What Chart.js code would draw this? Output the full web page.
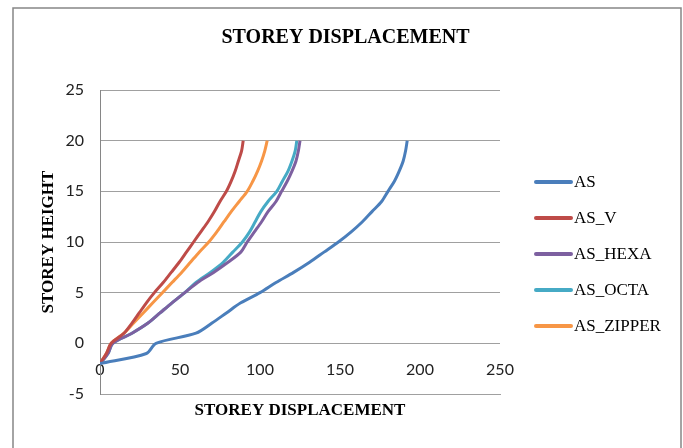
<!DOCTYPE html>
<html>
<head>
<meta charset="utf-8">
<script src="https://cdn.jsdelivr.net/npm/chart.js@4/dist/chart.umd.min.js"></script>
<style>
html,body{margin:0;padding:0;background:#fff;}
canvas{display:block;}
</style>
</head>
<body>
<canvas id="c" width="683" height="448"></canvas>
<script>
// ---- data ----
const storeyLevels = [-2,-1,0,1,2,3,4,5,6,7,8,9,10,11,12,13,14,15,16,17,18,19,20];
const AS        = [0,29,35,60,70,79,88,100,110,121,131,140,149,157,164,170,176,180,184,187,189.5,191,192];
const AS_V      = [0,4,7,15,20,24.5,29,34,39.5,44.5,49.5,54,58.5,63,67.5,71.5,75,79,82,84.5,86.5,88.5,89.5];
const AS_HEXA   = [0,5,8,20,30,37.5,45,53,61,71,80,88,92,96.5,101,105,110,113.5,117,120,122.5,124,125];
const AS_OCTA   = [0,5,8,20,30,37.5,45,53,60,69,77,83,89,93.5,97,100.5,105,110.5,114,117.5,120,122,123];
const AS_ZIPPER = [0,4,7,15,21,27,33,39,45,51,56.5,62,68,73,77.5,82,87,92,95.5,98.5,101,103,104.5];
const seriesNames = ['AS','AS_V','AS_HEXA','AS_OCTA','AS_ZIPPER'];
const seriesValues = [AS, AS_V, AS_HEXA, AS_OCTA, AS_ZIPPER];
const seriesColors = ['#4A7EBB','#BE4B48','#7D60A0','#46AAC5','#F79646'];
const xTicks = [0,50,100,150,200,250];
const yTicks = [-5,0,5,10,15,20,25];
const chartTitle = 'STOREY DISPLACEMENT';
const xTitle = 'STOREY DISPLACEMENT';
const yTitle = 'STOREY HEIGHT';

const datasets = seriesNames.map((name,i)=>({
  label: name,
  data: seriesValues[i].map((v,j)=>({x:v, y:storeyLevels[j]})),
  borderColor: seriesColors[i],
  backgroundColor: seriesColors[i],
  borderWidth: 3,
  pointRadius: 0,
  tension: 0.3,
  fill: false,
  xAxisID: 'x',
  yAxisID: 'y'
}));

const frameAndLegend = {
  id: 'frameAndLegend',
  beforeDraw(chart){
    const ctx = chart.ctx;
    ctx.save();
    ctx.fillStyle = '#fff';
    ctx.fillRect(0,0,chart.width,chart.height);
    ctx.strokeStyle = '#868686';
    ctx.lineWidth = 1.5;
    ctx.strokeRect(13, 8, 668, 460);
    ctx.restore();
  },
  afterDraw(chart){
    const ctx = chart.ctx;
    ctx.save();
    ctx.font = '17px "Liberation Serif"';
    ctx.textBaseline = 'middle';
    ctx.textAlign = 'left';
    chart.data.datasets.forEach((ds,i)=>{
      const y = 182 + i*36;
      ctx.strokeStyle = ds.borderColor;
      ctx.lineWidth = 4;
      ctx.lineCap = 'round';
      ctx.beginPath();
      ctx.moveTo(536, y);
      ctx.lineTo(571, y);
      ctx.stroke();
      ctx.fillStyle = '#000';
      ctx.fillText(ds.label, 574, y+1);
    });
    ctx.restore();
  }
};

new Chart(document.getElementById('c'), {
  type: 'line',
  data: { datasets },
  plugins: [frameAndLegend],
  options: {
    responsive: false,
    animation: false,
    layout: { padding: { left: 8, right: 0, top: 0, bottom: 0 } },
    plugins: {
      legend: { display: false },
      tooltip: { enabled: false },
      title: {
        display: true,
        text: chartTitle,
        color: '#000',
        font: { family: 'Liberation Serif', size: 20, weight: 'bold' },
        padding: { top: 26, bottom: 40 }
      }
    },
    scales: {
      x: {
        type: 'linear',
        position: 'bottom',
        min: 0, max: 250,
        grid: { display: false },
        border: { display: true, color: '#a0a0a0', width: 1 },
        ticks: { display: false },
        afterFit(s){ s.height = 54; },
        title: {
          display: true,
          text: xTitle,
          color: '#000',
          font: { family: 'Liberation Serif', size: 17, weight: 'bold' },
          padding: { top: 0, bottom: 27 }
        }
      },
      x2: {
        type: 'linear',
        position: { y: -0.9 },
        min: 0, max: 250,
        afterBuildTicks(s){ s.ticks = xTicks.map(v=>({value:v})); },
        grid: { display: false },
        border: { display: false },
        ticks: { color: '#222', padding: 0, font: { family: 'Lato', size: 16 } }
      },
      y: {
        type: 'linear',
        min: -5, max: 25,
        afterBuildTicks(s){ s.ticks = yTicks.map(v=>({value:v})); },
        afterFit(s){ s.width = 92; },
        grid: { color: '#a0a0a0', lineWidth: 1, drawTicks: false },
        border: { display: true, color: '#868686', width: 1 },
        ticks: { color: '#222', padding: 16, font: { family: 'Lato', size: 16 } },
        title: {
          display: true,
          text: yTitle,
          color: '#000',
          font: { family: 'Liberation Serif', size: 17, weight: 'bold' },
          padding: { top: 30, bottom: 0 }
        }
      },
      yRightSpace: {
        type: 'linear',
        position: 'right',
        display: true,
        min: -5, max: 25,
        afterFit(s){ s.width = 183; },
        grid: { display: false, drawOnChartArea: false },
        border: { display: false },
        ticks: { display: false }
      }
    }
  }
});
</script>
</body>
</html>
